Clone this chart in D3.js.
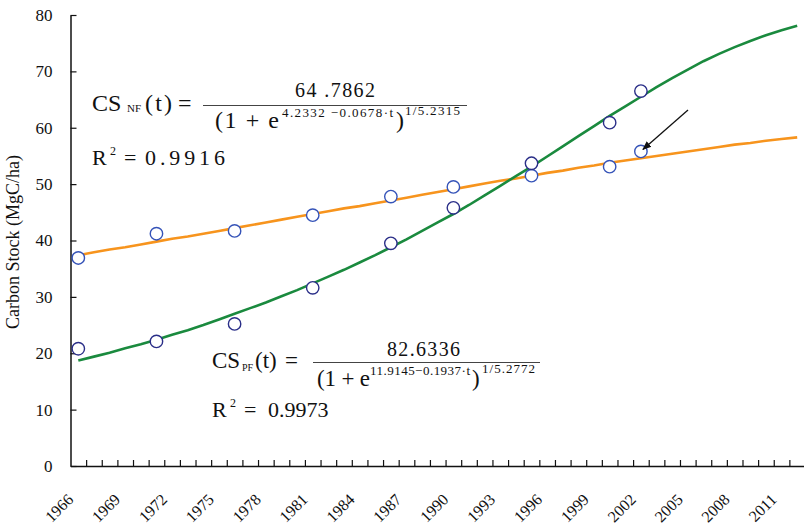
<!DOCTYPE html>
<html>
<head>
<meta charset="utf-8">
<script src="https://cdn.jsdelivr.net/npm/d3@7"></script>
<style>
body { margin: 0; background: #fff; }
svg text { font-family: "Liberation Serif", "Times New Roman", serif; fill: #111; }
</style>
</head>
<body>
<div id="chart"></div>
<script>
// yearly fitted curves (1966..2012)
var years = d3.range(1966, 2013);
var nfFit = [37.4, 37.9, 38.4, 38.8, 39.3, 39.8, 40.3, 40.7, 41.2, 41.7,
             42.2, 42.7, 43.2, 43.7, 44.2, 44.7, 45.2, 45.7, 46.1, 46.6,
             47.1, 47.6, 48.1, 48.6, 49.1, 49.6, 50.1, 50.6, 51.0, 51.5,
             52.0, 52.4, 52.9, 53.3, 53.8, 54.2, 54.6, 55.0, 55.4, 55.8,
             56.2, 56.6, 57.0, 57.3, 57.7, 58.0, 58.3];
var pfFit = [18.7, 19.4, 20.1, 20.9, 21.6, 22.4, 23.3, 24.1, 25.0, 26.0,
             27.0, 28.0, 29.0, 30.1, 31.2, 32.4, 33.6, 34.8, 36.1, 37.4,
             38.8, 40.2, 41.7, 43.2, 44.7, 46.3, 48.0, 49.7, 51.4, 53.1,
             54.9, 56.7, 58.5, 60.3, 62.1, 63.8, 65.5, 67.2, 68.8, 70.3,
             71.8, 73.1, 74.3, 75.4, 76.4, 77.3, 78.1];

// measured plots
var obsYears = [1966, 1971, 1976, 1981, 1986, 1990, 1995, 2000, 2002];
var nfObs = [36.9, 41.2, 41.7, 44.5, 47.8, 49.5, 51.5, 53.1, 55.8];
var pfObs = [20.8, 22.1, 25.2, 31.6, 39.5, 45.8, 53.7, 60.9, 66.5];

var xLabels = ['1966', '1969', '1972', '1975', '1978', '1981', '1984', '1987',
               '1990', '1993', '1996', '1999', '2002', '2005', '2008', '2011'];
var yTicks = [0, 10, 20, 30, 40, 50, 60, 70, 80];

var width = 804, height = 528;
var svg = d3.select('#chart').append('svg')
    .attr('width', width)
    .attr('height', height);

var x = d3.scaleLinear().domain([1965.5, 2012.5]).range([70.5, 805]);
var y = d3.scaleLinear().domain([0, 80]).range([466, 15]);

// axes (ticks point inward)
var xAxis = d3.axisBottom(x)
    .tickValues(years.slice(1).map(function(d){ return d - 0.5; }))
    .tickSize(-6).tickSizeOuter(0).tickFormat('');
var gx = svg.append('g').attr('transform', 'translate(0,' + y(0) + ')').call(xAxis);

var yAxis = d3.axisLeft(y).tickValues(yTicks)
    .tickSize(-6).tickSizeOuter(0).tickPadding(18);
var gy = svg.append('g').attr('transform', 'translate(' + x(1965.5) + ',0)').call(yAxis);

[gx, gy].forEach(function(g){
    g.select('.domain').attr('stroke', '#111').attr('stroke-width', 1.5);
    g.selectAll('.tick line').attr('stroke', '#111').attr('stroke-width', 1.2);
});
gy.selectAll('.tick text')
    .style('font-size', '17px');

// slanted year labels, every third year
svg.selectAll('.xlab')
    .data(xLabels)
    .enter()
    .append('text')
    .attr('class', 'xlab')
    .attr('x', function(d){ return x(+d) - 4; })
    .attr('y', 500.5)
    .attr('transform', function(d){ return 'rotate(-45,' + (x(+d) - 4) + ',500.5)'; })
    .attr('text-anchor', 'end')
    .style('font-size', '16px')
    .text(function(d){ return d; });

svg.append('text')
    .attr('transform', 'translate(19,242) rotate(-90)')
    .attr('text-anchor', 'middle')
    .style('font-size', '18px')
    .text('Carbon Stock (MgC/ha)');

// fitted lines
var line = d3.line()
    .x(function(d){ return x(d[0]); })
    .y(function(d){ return y(d[1]); });

svg.append('path')
    .datum(years.map(function(yr, i){ return [yr, nfFit[i]]; }))
    .attr('d', line)
    .attr('fill', 'none')
    .attr('stroke', '#f7941d')
    .attr('stroke-width', 2.6);

svg.append('path')
    .datum(years.map(function(yr, i){ return [yr, pfFit[i]]; }))
    .attr('d', line)
    .attr('fill', 'none')
    .attr('stroke', '#1a8a3e')
    .attr('stroke-width', 2.6);

// observed circles
function addPoints(vals, color){
    svg.selectAll(null)
        .data(obsYears.map(function(yr, i){ return [yr, vals[i]]; }))
        .enter()
        .append('circle')
        .attr('cx', function(d){ return x(d[0]); })
        .attr('cy', function(d){ return y(d[1]); })
        .attr('r', 6.2)
        .attr('fill', '#fff')
        .attr('stroke', color)
        .attr('stroke-width', 1.4);
}
addPoints(nfObs, '#3553b8');
addPoints(pfObs, '#2a2e88');

// arrow pointing to the 2002 plot
svg.append('defs').append('marker')
    .attr('id', 'arr')
    .attr('viewBox', '0 0 10 10')
    .attr('refX', 9).attr('refY', 5)
    .attr('markerWidth', 7).attr('markerHeight', 7)
    .attr('orient', 'auto')
    .append('path').attr('d', 'M0,1 L10,5 L0,9 Z').attr('fill', '#111');

svg.append('line')
    .attr('x1', 688).attr('y1', 110)
    .attr('x2', x(2002) + 2).attr('y2', y(55.8) - 2)
    .attr('stroke', '#111').attr('stroke-width', 1.3)
    .attr('marker-end', 'url(#arr)');

// equations
function txt(px, py, s, size, len){
    var t = svg.append('text')
        .attr('x', px).attr('y', py)
        .style('font-size', size + 'px')
        .text(s);
    if (len) t.attr('textLength', len).attr('lengthAdjust', 'spacing');
    return t;
}
function rule(x1, x2, py){
    svg.append('line')
        .attr('x1', x1).attr('x2', x2)
        .attr('y1', py).attr('y2', py)
        .attr('stroke', '#444').attr('stroke-width', 1);
}

// NF
txt(92, 111, 'CS', 24);
txt(127, 112, 'NF', 11);
txt(145, 111, '(t)', 24, 27);
txt(178, 111, '=', 24);
txt(295, 97, '64 .7862', 20, 80);
rule(203, 467, 105.5);
txt(215, 128, '(1 + e', 24, 64);
txt(282, 117, '4.2332 \u22120.0678\u00b7t', 13, 111);
txt(396, 128, ')', 24);
txt(405, 115, '1/5.2315', 13, 55);
txt(92, 165, 'R', 22);
txt(110, 155, '2', 12);
txt(124, 165, '=', 22);
txt(145, 165, '0.9916', 22, 80);

// PF
txt(212, 368, 'CS', 23);
txt(242, 371, 'PF', 10);
txt(255, 368, '(t)', 23);
txt(285, 368, '=', 23);
txt(387, 356, '82.6336', 20, 73);
rule(313, 540, 362.5);
txt(317, 386, '(1 + e', 23, 53);
txt(370, 375, '11.9145\u22120.1937\u00b7t', 13, 100);
txt(472, 386, ')', 23);
txt(482, 373, '1/5.2772', 13, 53);
txt(212, 417, 'R', 22);
txt(230, 407, '2', 12);
txt(244, 417, '=', 22);
txt(268, 417, '0.9973', 22);
</script>
</body>
</html>
